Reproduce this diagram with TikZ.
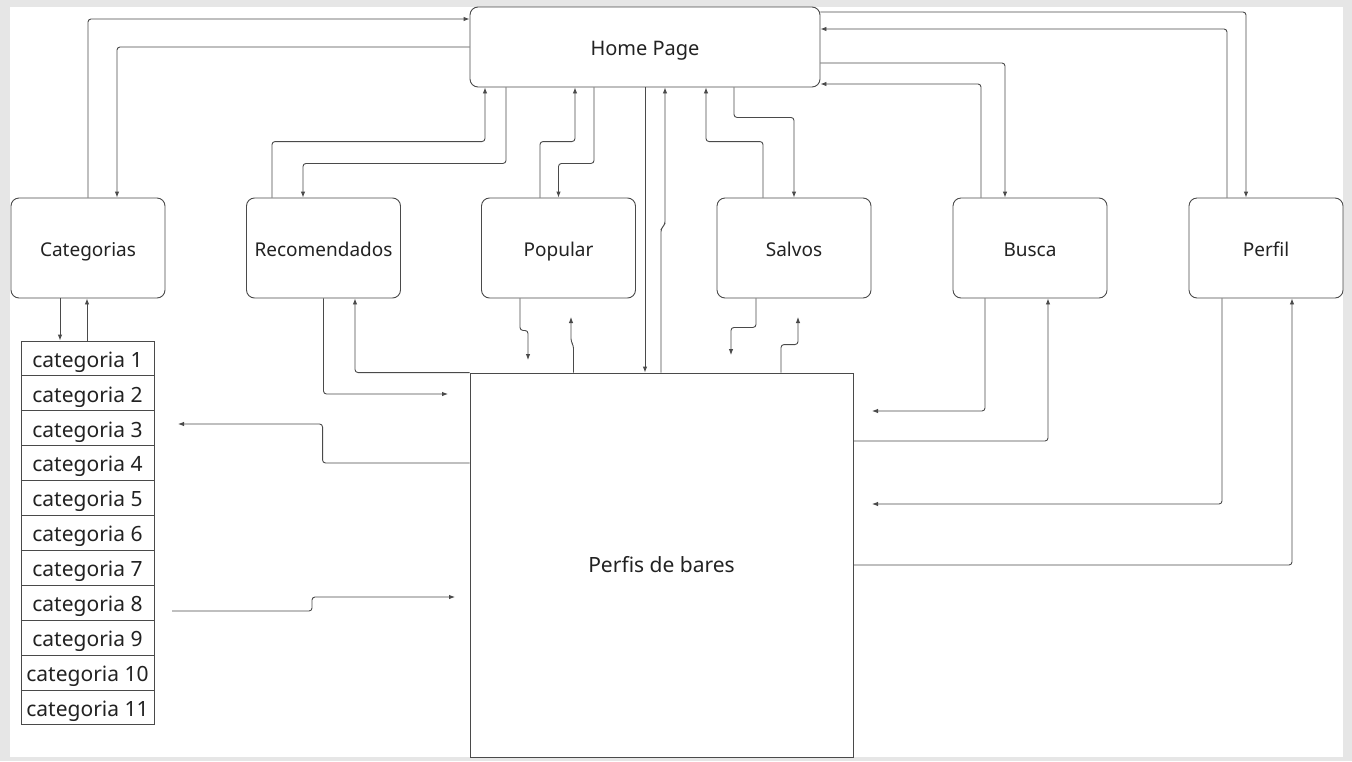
\documentclass[tikz,border=0pt]{standalone}
\usepackage{fontspec}
\setmainfont{Noto Sans}
\usetikzlibrary{arrows.meta}

\definecolor{fundo}{HTML}{E6E6E6}
\definecolor{linha}{HTML}{4A4A4A}
\definecolor{texto}{HTML}{222222}

\tikzset{
    caixa/.style={draw=linha, rounded corners=8pt, minimum width=154pt, minimum height=100pt,
        inner sep=0pt, text=texto, text height=17.5pt, text depth=0pt, font=\fontsize{19}{22}\selectfont},
    celula/.style={draw=linha, minimum width=133pt, minimum height=34.9pt, inner sep=0pt,
        text=texto, text height=17.5pt, text depth=0pt, font=\fontsize{21}{24}\selectfont},
    seta/.style={->, draw=linha, rounded corners=3pt},
}

\begin{document}
\begin{tikzpicture}[x=1pt, y=-1pt, line width=0.9pt, >={Latex[length=6pt,width=4.5pt]}]

    \fill[fundo] (0,0) rectangle (1352,761);
    \fill[white] (10,7) rectangle (1343,757);

    % paginas
    \node[caixa, minimum width=350pt, minimum height=80pt, text height=16pt, font=\fontsize{20}{24}\selectfont] (home) at (645,47) {Home Page};
    \node[caixa] (cat) at (88,248) {Categorias};
    \node[caixa] (reco) at (323.5,248) {Recomendados};
    \node[caixa] (pop) at (558.5,248) {Popular};
    \node[caixa] (salv) at (794,248) {Salvos};
    \node[caixa] (busca) at (1030,248) {Busca};
    \node[caixa] (perfil) at (1266,248) {Perfil};
    \node[caixa, rounded corners=0pt, minimum width=383pt, minimum height=384pt, text height=15pt, font=\fontsize{21}{25}\selectfont] (bares) at (661.5,565) {Perfis de bares};

    \foreach \i in {1,...,11}
    {
        \node[celula] (c\i) at (87.5,{358.45+34.9*(\i-1)}) {categoria \i};
    }

    % pontas soltas
    \coordinate (r1) at (448,394);
    \coordinate (c3) at (178,424);
    \coordinate (c8) at (172,611);
    \coordinate (b8) at (455,597);
    \coordinate (p1) at (528,360);
    \coordinate (p2) at (571,317);
    \coordinate (s1) at (731,355);
    \coordinate (s2) at (798,317);
    \coordinate (b1) at (872,411);
    \coordinate (f1) at (872,504);

    % home <-> paginas
    \draw[seta] (cat.north) |- ([yshift=28pt]home.west);
    \draw[seta] (home.west) -| ([xshift=29pt]cat.north);
    \draw[seta] ([xshift=-51.5pt]reco.north) -- ++(0,-56) -| ([xshift=-160pt]home.south);
    \draw[seta] ([xshift=-139pt]home.south) -- ++(0,76) -| ([xshift=-20.5pt]reco.north);
    \draw[seta] ([xshift=-18.5pt]pop.north) -- ++(0,-56) -| ([xshift=-70pt]home.south);
    \draw[seta] ([xshift=-51pt]home.south) -- ++(0,76) -| (pop.north);
    \draw[seta] (home.south) -- (home.south |- bares.north);
    \draw[seta] ([xshift=-0.5pt]bares.north) -- ++(0,-144) -- ++(4,-4) -- ([xshift=20pt]home.south);
    \draw[seta] ([xshift=-31pt]salv.north) -- ++(0,-56) -| ([xshift=61pt]home.south);
    \draw[seta] ([xshift=89pt]home.south) -- ++(0,30) -| (salv.north);
    \draw[seta] ([yshift=-16pt]home.east) -| ([xshift=-25pt]busca.north);
    \draw[seta] ([xshift=-49pt]busca.north) |- ([yshift=-37pt]home.east);
    \draw[seta] ([yshift=35pt]home.east) -| ([xshift=-20pt]perfil.north);
    \draw[seta] ([xshift=-39pt]perfil.north) |- ([yshift=18pt]home.east);

    % categorias
    \draw[seta] ([xshift=-28pt]cat.south) -- ([xshift=-27.5pt]c1.north);
    \draw[seta] ([xshift=-0.5pt]c1.north) -- ([xshift=-1pt]cat.south);

    % paginas <-> perfis de bares
    \draw[seta] (reco.south) |- (r1);
    \draw[seta] (bares.north west) -| ([xshift=31.5pt]reco.south);
    \draw[seta] ([yshift=102pt]bares.west) -- ++(-147,0) |- (c3);
    \draw[seta] (c8) -- ++(140,0) |- (b8);
    \draw[seta] ([xshift=-38.5pt]pop.south) -- ++(0,32) -| (p1);
    \draw[seta] ([xshift=-88pt]bares.north) -- ++(0,-27) -- ++(-2.5,-4) -- (p2);
    \draw[seta] ([xshift=-38pt]salv.south) -- ++(0,29) -| (s1);
    \draw[seta] ([xshift=119.5pt]bares.north) -- ++(0,-28) -| (s2);
    \draw[seta] ([xshift=-45pt]busca.south) |- (b1);
    \draw[seta] ([yshift=124pt]bares.east) -| ([xshift=18pt]busca.south);
    \draw[seta] ([xshift=-44pt]perfil.south) |- (f1);
    \draw[seta] (bares.east) -| ([xshift=26pt]perfil.south);

\end{tikzpicture}
\end{document}
